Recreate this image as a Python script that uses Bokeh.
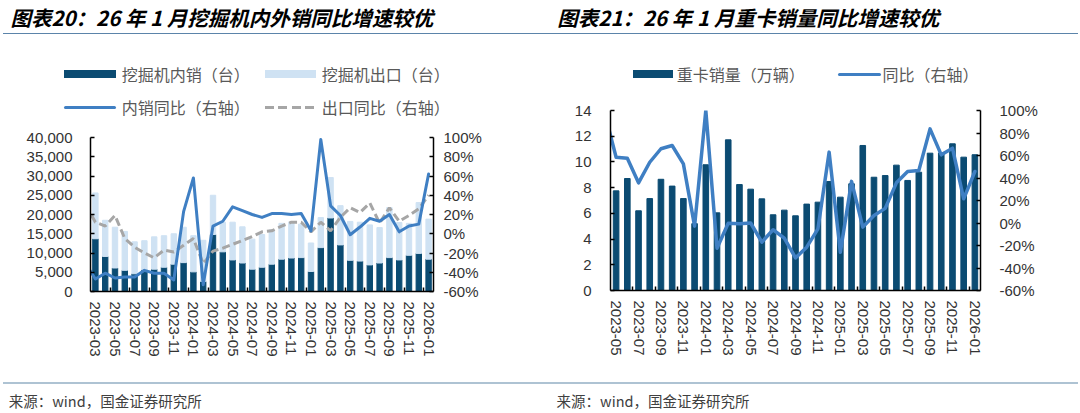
from bokeh.plotting import figure
from bokeh.models import (Range1d, LinearAxis, FixedTicker, NumeralTickFormatter, PrintfTickFormatter,
                          CustomJSTickFormatter, ColumnDataSource, Div)
from bokeh.layouts import row, column
from bokeh.embed import file_html
from bokeh.resources import INLINE

# ---------------- data : excavators ----------------
exc_months = ["2023-03", "2023-04", "2023-05", "2023-06", "2023-07", "2023-08", "2023-09", "2023-10",
              "2023-11", "2023-12", "2024-01", "2024-02", "2024-03", "2024-04", "2024-05", "2024-06",
              "2024-07", "2024-08", "2024-09", "2024-10", "2024-11", "2024-12", "2025-01", "2025-02",
              "2025-03", "2025-04", "2025-05", "2025-06", "2025-07", "2025-08", "2025-09", "2025-10",
              "2025-11", "2025-12", "2026-01"]
exc_domestic = [13700, 9100, 6100, 5500, 4600, 5600, 5800, 6300, 7100, 7500,
                5100, 2600, 14800, 10300, 8200, 7400, 5800, 6300, 7100, 8400,
                8700, 8800, 5200, 11400, 19100, 12100, 8100, 7900, 6900, 7400,
                8800, 8200, 9400, 9900, 8400]
exc_export = [11900, 9400, 10600, 10100, 8300, 7600, 8400, 8200, 7900, 9200,
              9400, 10700, 10200, 7700, 9800, 9400, 7800, 8500, 8900, 9300,
              9300, 8700, 7400, 7800, 10500, 10200, 10100, 10100, 10400, 9200,
              13000, 9700, 8300, 13200, 10400]
# yoy lines start one month earlier (segment clipped by the axis)
exc_yoy_months = ["2023-02"] + exc_months
exc_dom_yoy = [-31, -47, -41, -46, -45, -45, -38, -41, -41, -48, 23,
               58, -53, 8, 13, 28, 24, 20, 17, 21, 21,
               20, 21, 3, 98, 29, 19, -1, 7, 16, 13,
               20, 2, 8, 10, 62]
exc_exp_yoy = [30, 12, 8, 19, -5, -14, -20, -25, -17, -19, -12,
               -5, -31, -18, -15, -11, -7, -3, 2, 3, 8,
               12, 12, 2, 12, 3, 17, 27, 22, 32, 11,
               27, 13, 19, 26, 40]

# ---------------- data : heavy trucks ----------------
trk_months = ["2023-05", "2023-06", "2023-07", "2023-08", "2023-09", "2023-10", "2023-11", "2023-12",
              "2024-01", "2024-02", "2024-03", "2024-04", "2024-05", "2024-06", "2024-07", "2024-08",
              "2024-09", "2024-10", "2024-11", "2024-12", "2025-01", "2025-02", "2025-03", "2025-04",
              "2025-05", "2025-06", "2025-07", "2025-08", "2025-09", "2025-10", "2025-11", "2025-12",
              "2026-01"]
trk_sales = [7.75, 8.71, 6.2, 7.15, 8.65, 8.12, 7.15, 5.2, 9.78, 6.04,
             11.72, 8.24, 7.88, 7.13, 5.89, 6.25, 5.81, 6.72, 6.87, 8.48,
             7.26, 8.3, 11.28, 8.81, 8.94, 9.75, 8.56, 9.2, 10.68, 10.7,
             11.41, 10.37, 10.56]
trk_yoy_months = ["2023-04"] + trk_months
trk_yoy = [97, 58.5, 57.6, 35.7, 54, 66, 68.9, 52.6, -2.8, 100, -22.4,
           -0.2, -0.7, 0, -17, -6, -13.5, -31, -21.5, -5.2, 63,
           -26, 37, -3.7, 6.7, 13, 35.7, 45.8, 46.7, 83.7, 60.6,
           66.5, 21.5, 45.8]

# ---------------- texts ----------------
title1 = "图表20：26 年 1 月挖掘机内外销同比增速较优"
title2 = "图表21：26 年 1 月重卡销量同比增速较优"
source_text = "来源：wind，国金证券研究所"
leg1_labels = ["挖掘机内销（台）", "挖掘机出口（台）", "内销同比（右轴）", "出口同比（右轴）"]
leg2_labels = ["重卡销量（万辆）", "同比（右轴）"]

# ---------------- style ----------------
DARK = "#0b4b72"
LIGHT = "#cfe2f3"
BLUE = "#3f7fc3"
GREY = "#a6a6a6"
CJK = "'Noto Sans CJK SC'"
NUM = "Liberation Sans"
FW = 540


def chart_fig(n, ymax, h, bl, br, bt, bb):
    p = figure(width=FW, height=h, x_range=Range1d(-0.5, n - 0.5), y_range=Range1d(0, ymax),
               output_backend="svg", toolbar_location=None,
               min_border_left=bl, min_border_right=br, min_border_top=bt, min_border_bottom=bb)
    p.extra_y_ranges = {"pct": Range1d(-60, 100)}
    p.xgrid.visible = False
    p.ygrid.visible = False
    p.outline_line_color = None
    return p


def style_y(ax, standoff):
    ax.axis_line_color = "black"
    ax.axis_line_width = 1.5
    ax.major_tick_in = 4
    ax.major_tick_out = 0
    ax.major_tick_line_color = "black"
    ax.major_tick_line_width = 1.5
    ax.minor_tick_in = 0
    ax.minor_tick_out = 0
    ax.major_label_text_font = NUM
    ax.major_label_text_font_size = "15px"
    ax.major_label_text_color = "#333333"
    ax.major_label_standoff = standoff


def style_x(ax, labels, standoff):
    n = len(labels)
    ax.ticker = FixedTicker(ticks=list(range(0, n, 2)), minor_ticks=[i + 1.5 for i in range(0, n - 2, 2)])
    ax.formatter = CustomJSTickFormatter(args=dict(labels=labels),
                                         code="const i = Math.round(tick); return (i >= 0 && i < labels.length) ? labels[i] : '';")
    ax.major_label_orientation = "vertical"
    ax.axis_line_color = "black"
    ax.axis_line_width = 1.5
    ax.major_tick_in = 0
    ax.major_tick_out = 0
    ax.minor_tick_in = 4
    ax.minor_tick_out = 0
    ax.minor_tick_line_color = "black"
    ax.minor_tick_line_width = 1.5
    ax.major_label_text_font = NUM
    ax.major_label_text_font_size = "15px"
    ax.major_label_text_color = "#333333"
    ax.major_label_standoff = standoff


# ---------- html helpers for header / legend / footer ----------
def box(left, top, width, height, css):
    return (f'<div style="position:absolute;left:{left}px;top:{top}px;width:{width}px;'
            f'height:{height}px;{css}"></div>')


def txt(left, cy, text, size, css, lh=None):
    lh = lh if lh is not None else size + 4
    return (f'<div style="position:absolute;left:{left}px;top:{cy - lh / 2}px;height:{lh}px;'
            f'line-height:{lh}px;font-size:{size}px;white-space:nowrap;font-family:{CJK};{css}">{text}</div>')


def panel(h, parts):
    html = (f'<div style="position:relative;width:{FW}px;height:{h}px;overflow:visible;">'
            + "".join(parts) + '</div>')
    return Div(text=html, width=FW, height=h, margin=(0, 0, 0, 0))


TITLE_CSS = "font-weight:bold;font-style:italic;color:#000000;"
LEG_CSS = "color:#595959;"
RULE_TOP = "background:#5b84aa;"
RULE_BOT = "background:#aec3d3;"
DASH_CSS = f"background:repeating-linear-gradient(to right,{GREY} 0px,{GREY} 9px,transparent 9px,transparent 13.3px);"


def header1(h):
    r1, r2 = 74.4, 107.3
    parts = [txt(10.4, 16.5, title1, 20.5, TITLE_CSS, lh=24),
             box(3, 32.5, FW - 3, 1.5, RULE_TOP),
             box(64, r1 - 4, 52, 8, f"background:{DARK};"),
             txt(121.8, r1, leg1_labels[0], 16, LEG_CSS),
             box(264.7, r1 - 4, 51, 8, f"background:{LIGHT};"),
             txt(321.8, r1, leg1_labels[1], 16, LEG_CSS),
             box(64, r2 - 1.5, 52, 3, f"background:{BLUE};border-radius:1.5px;"),
             txt(121.8, r2, leg1_labels[2], 16, LEG_CSS),
             box(264.7, r2 - 1.5, 51, 3, DASH_CSS),
             txt(321.8, r2, leg1_labels[3], 16, LEG_CSS)]
    return panel(h, parts)


def header2(h):
    r1 = 74.4
    parts = [txt(17.3, 16.5, title2, 20.5, TITLE_CSS, lh=24),
             box(0, 32.5, FW - 2, 1.5, RULE_TOP),
             box(92.7, r1 - 4, 40, 8, f"background:{DARK};"),
             txt(136.7, r1, leg2_labels[0], 16, LEG_CSS),
             box(298.3, r1 - 1.75, 42.5, 3.5, f"background:{BLUE};border-radius:1.75px;"),
             txt(342.6, r1, leg2_labels[1], 16, LEG_CSS)]
    return panel(h, parts)


def footer(h, text_x, left, width):
    parts = [box(left, 16.5, width, 2, RULE_BOT),
             txt(text_x, 36, source_text, 14.5, "color:#404040;")]
    return panel(h, parts)


# ================= left column: excavators =================
H1, P1H, FTH = 128, 237, 48
p1 = chart_fig(len(exc_months), 40000, P1H, 90, 107, 9, 74)
src_bar1 = ColumnDataSource(dict(x=list(range(len(exc_months))), domestic=exc_domestic, export=exc_export))
p1.vbar_stack(["domestic", "export"], x="x", width=0.55, color=[DARK, LIGHT], source=src_bar1)
src_line1 = ColumnDataSource(dict(x=[i - 1 for i in range(len(exc_yoy_months))], dom=exc_dom_yoy, exp=exc_exp_yoy))
p1.line("x", "exp", source=src_line1, y_range_name="pct", line_color=GREY, line_width=3, line_dash="8 4")
p1.line("x", "dom", source=src_line1, y_range_name="pct", line_color=BLUE, line_width=3,
        line_join="round", line_cap="round")
style_y(p1.yaxis[0], 18)
p1.yaxis[0].ticker = FixedTicker(ticks=list(range(0, 40001, 5000)))
p1.yaxis[0].formatter = NumeralTickFormatter(format="0,0")
ax_r1 = LinearAxis(y_range_name="pct", ticker=FixedTicker(ticks=list(range(-60, 101, 20))),
                   formatter=PrintfTickFormatter(format="%d%%"))
style_y(ax_r1, 10)
p1.add_layout(ax_r1, "right")
style_x(p1.xaxis[0], exc_months, 10)

# ================= right column: heavy trucks =================
H2, P2H = 98, 267
p2 = chart_fig(len(trk_months), 14, P2H, 70, 100, 12, 75)
src_bar2 = ColumnDataSource(dict(x=list(range(len(trk_months))), sales=trk_sales))
p2.vbar(x="x", top="sales", width=0.5, color=DARK, source=src_bar2)
src_line2 = ColumnDataSource(dict(x=[i - 1 for i in range(len(trk_yoy_months))], yoy=trk_yoy))
p2.line("x", "yoy", source=src_line2, y_range_name="pct", line_color=BLUE, line_width=3.5,
        line_join="round", line_cap="round")
style_y(p2.yaxis[0], 19)
p2.yaxis[0].ticker = FixedTicker(ticks=list(range(0, 15, 2)))
ax_r2 = LinearAxis(y_range_name="pct", ticker=FixedTicker(ticks=list(range(-60, 101, 20))),
                   formatter=PrintfTickFormatter(format="%d%%"))
style_y(ax_r2, 19)
p2.add_layout(ax_r2, "right")
style_x(p2.xaxis[0], trk_months, 10)

col1 = column(header1(H1), p1, footer(FTH, 8.7, 3, FW - 3), spacing=0)
col2 = column(header2(H2), p2, footer(FTH, 16.6, 0, FW - 2), spacing=0)
layout = row(col1, col2, spacing=0)
open("out.html", "w").write(file_html(layout, INLINE))
